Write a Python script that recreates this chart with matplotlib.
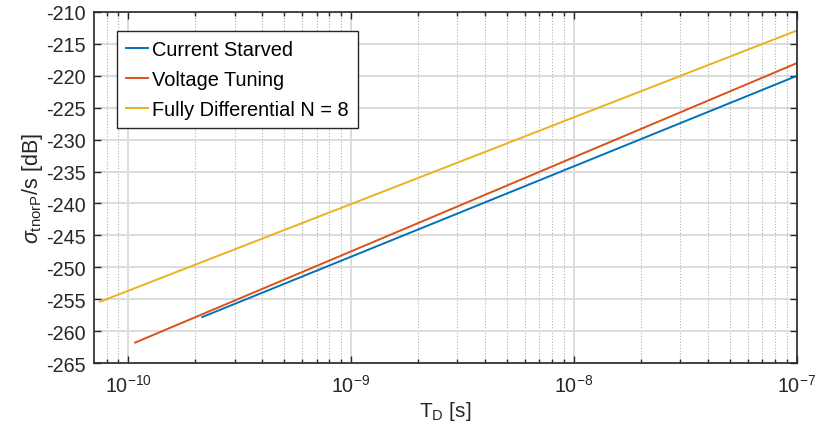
import matplotlib.pyplot as plt
from matplotlib.ticker import LogLocator, NullFormatter, MultipleLocator

plt.rcParams['font.family'] = ['Liberation Sans', 'DejaVu Sans']
plt.rcParams['mathtext.fontset'] = 'custom'
plt.rcParams['mathtext.rm'] = 'Liberation Sans'
plt.rcParams['mathtext.it'] = 'Liberation Sans:italic'
plt.rcParams['axes.unicode_minus'] = False

# ====================================================
# Data
# ====================================================
td_cs = [2.15e-10, 1e-7]
sig_cs = [-257.8, -220.0]

td_vt = [1.075e-10, 1e-7]
sig_vt = [-261.8, -218.0]

td_fd = [7.48e-11, 1e-7]
sig_fd = [-255.4, -212.9]

labels = ["Current Starved", "Voltage Tuning", "Fully Differential N = 8"]
colors = ["#0072BD", "#D95319", "#EDB120"]

# ====================================================
# Plot
# ====================================================
fig = plt.figure(figsize=(8.16, 4.39), dpi=100)
ax = fig.add_axes([0.1152, 0.1708, 0.8615, 0.7996])

for xs, ys, lab, c in zip([td_cs, td_vt, td_fd], [sig_cs, sig_vt, sig_fd], labels, colors):
    ax.plot(xs, ys, color=c, linewidth=1.4, label=lab)

ax.set_xscale("log")
ax.set_xlim(7.03e-11, 1e-7)
ax.set_ylim(-265, -210)
ax.yaxis.set_major_locator(MultipleLocator(5))
ax.xaxis.set_major_locator(LogLocator(base=10))
ax.xaxis.set_minor_locator(LogLocator(base=10, subs=range(2, 10)))
ax.xaxis.set_minor_formatter(NullFormatter())

ax.grid(True, which="major", color="#dcdcdc", linewidth=1.4, linestyle="-")
ax.grid(True, which="minor", axis="x", color="#b0b0b0", linewidth=0.8, linestyle=":")
ax.set_axisbelow(True)

ax.tick_params(which="both", direction="in", top=True, right=True, colors="#262626",
               labelcolor="#262626", labelsize=14.2)
ax.tick_params(which="major", length=5, width=1)
ax.tick_params(which="minor", length=3, width=1)
ax.tick_params(axis="x", pad=8)
ax.tick_params(axis="y", pad=6)
for s in ax.spines.values():
    s.set_color("#262626")
    s.set_linewidth(1.2)

ax.set_xlabel(r"T$_\mathrm{D}$ [s]", fontsize=15, color="#262626", labelpad=2)
ax.set_ylabel(r"$\sigma_\mathrm{tnorP}$/s [dB]", fontsize=15.5, color="#262626", labelpad=1)

leg = ax.legend(loc="upper left", bbox_to_anchor=(0.0327, 0.946), fontsize=14.4,
                handlelength=1.1, handletextpad=0.2, borderpad=0.45, labelspacing=0.55,
                borderaxespad=0, fancybox=False, framealpha=1, edgecolor="#262626")
leg.get_frame().set_linewidth(1.0)

fig.savefig("out.png", dpi=100)
